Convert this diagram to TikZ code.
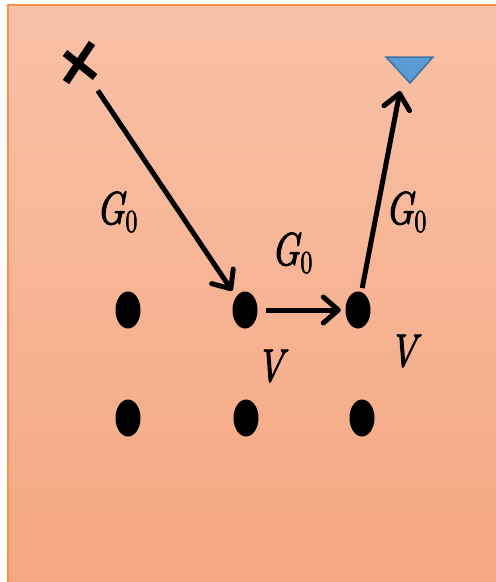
\documentclass[tikz,border=0pt]{standalone}
\usepackage{fontspec}
\usetikzlibrary{arrows.meta,shapes.geometric,calc}
\newfontfamily\lblfont{Latin Modern Roman}[FakeBold=2.5,FakeStretch=0.8,ItalicFeatures={FakeBold=2.5,FakeStretch=0.8}]
\definecolor{bgtop}{HTML}{F8C1A8}
\definecolor{bgbot}{HTML}{F5A780}
\definecolor{bord}{HTML}{F4904A}
\definecolor{triblue}{HTML}{5B9BD5}
\definecolor{triedge}{HTML}{41719C}
\newcommand{\gzero}{{\itshape G}\kern1pt\raisebox{-8pt}{\fontsize{32}{32}\selectfont 0}}
\tikzset{
  dot/.style={ellipse, fill=black, minimum width=25pt, minimum height=37pt, inner sep=0pt},
  arr/.style={line width=5pt, -{Straight Barb[length=15pt,width=26pt,line width=5pt,round]}},
  lbl/.style={font=\lblfont\fontsize{46}{48}\selectfont, inner sep=0pt},
  crossline/.style={line width=7.5pt}
}
\begin{document}
\begin{tikzpicture}[x=1pt,y=-1pt]
\useasboundingbox (0,0) rectangle (496,582);
\shade[top color=bgtop,bottom color=bgbot] (8,5) rectangle (500,590);
\draw[bord, line width=1.5pt] (500,5) -- (8,5) -- (8,590);
% cross
\coordinate (src) at (80,64);
\draw[crossline] ($(src)+(-15,-11)$) -- ($(src)+(15,13)$);
\draw[crossline] ($(src)+(12,-21)$) -- ($(src)+(-14,18)$);
% sink triangle
\coordinate (sink) at (410,83);
\filldraw[fill=triblue, draw=triedge, line width=1.5pt] (386,57) -- (433,57) -- (sink) -- cycle;
\coordinate (tgt) at (400,91);
% dots
\node[dot] (a1) at (128,310) {};
\node[dot] (a2) at (245,310) {};
\node[dot] (a3) at (358,310) {};
\node[dot] (b1) at (128,418) {};
\node[dot] (b2) at (246,418) {};
\node[dot] (b3) at (362,418) {};
% arrows
\draw[arr, shorten <=32pt, shorten >=7pt] (src) -- (a2);
\draw[arr, shorten <=8.5pt, shorten >=4.5pt] (a2) -- (a3);
\draw[arr, shorten <=4pt] (a3) -- (tgt);
% labels
\node[lbl] (g1) at (117,212) {\gzero};
\node[lbl] (g2) at (292,253) {\gzero};
\node[lbl] (g3) at (406,212) {\gzero};
\node[lbl] (v1) at (270,366) {\itshape V};
\node[lbl] (v2) at (403,351) {\itshape V};
\end{tikzpicture}
\end{document}
